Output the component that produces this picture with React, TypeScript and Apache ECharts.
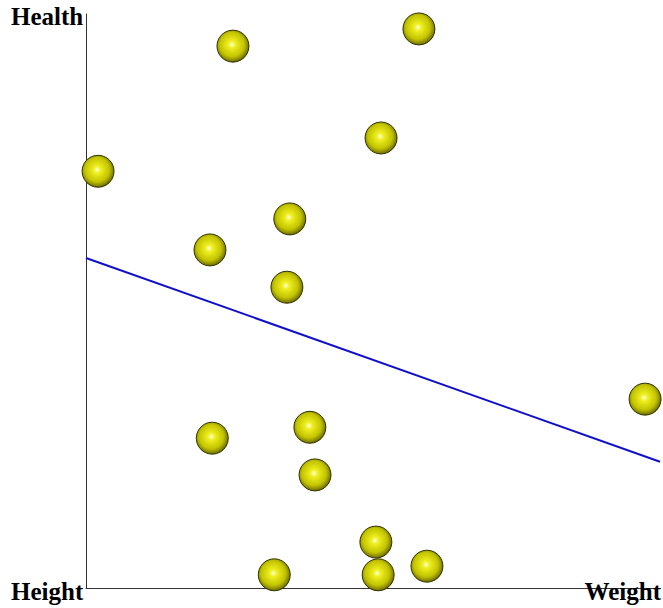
import React, { useEffect, useRef } from "react";
import * as echarts from "echarts";

const weight: number[] = [2.1, 25.6, 58.0, 51.4, 35.5, 21.6, 35.0, 97.4, 22.0, 39.0, 39.9, 50.5, 32.8, 50.9, 59.4];
const health: number[] = [72.6, 94.4, 97.4, 78.4, 64.3, 58.9, 52.4, 32.9, 26.1, 28.0, 19.7, 8.0, 2.3, 2.3, 3.8];
const trendX: number[] = [0, 100];
const trendY: number[] = [57.5, 22.0];
const axisTitles = { y: "Health", origin: "Height", x: "Weight" };

export default function App() {
  const ref = useRef<HTMLDivElement>(null);
  useEffect(() => {
    if (!ref.current) return;
    const chart = echarts.init(ref.current, null, { renderer: "svg" });
    const font = "'Liberation Serif', 'Times New Roman', serif";
    const sphere = new echarts.graphic.RadialGradient(0.47, 0.45, 0.58, [
      { offset: 0, color: "#ffffd0" },
      { offset: 0.2, color: "#eeee20" },
      { offset: 0.65, color: "#c4c400" },
      { offset: 0.9, color: "#7a7a00" },
      { offset: 1, color: "#3c3c00" },
    ]);
    chart.setOption({
      animation: false,
      backgroundColor: "#ffffff",
      grid: { left: 86, top: 14, right: 3, bottom: 20, containLabel: false },
      xAxis: {
        type: "value",
        min: 0,
        max: 100,
        axisLine: { show: true, lineStyle: { color: "#333333", width: 1 } },
        axisTick: { show: false },
        axisLabel: { show: false },
        splitLine: { show: false },
      },
      yAxis: {
        type: "value",
        min: 0,
        max: 100,
        axisLine: { show: true, lineStyle: { color: "#333333", width: 1 } },
        axisTick: { show: false },
        axisLabel: { show: false },
        splitLine: { show: false },
      },
      series: [
        {
          type: "line",
          data: trendX.map((x, i) => [x, trendY[i]]),
          symbol: "none",
          lineStyle: { color: "#1010cc", width: 2 },
          z: 1,
        },
        {
          type: "scatter",
          data: weight.map((x, i) => [x, health[i]]),
          symbolSize: 32,
          itemStyle: { color: sphere, borderColor: "#333300", borderWidth: 1, opacity: 1 },
          z: 3,
        },
      ],
      graphic: [
        {
          type: "text",
          left: 11,
          top: 4,
          z: 10,
          style: { text: axisTitles.y, font: `bold 25px ${font}`, fill: "#000" },
        },
        {
          type: "text",
          left: 11,
          top: 579,
          z: 10,
          style: { text: axisTitles.origin, font: `bold 25px ${font}`, fill: "#000" },
        },
        {
          type: "text",
          right: 2,
          top: 579,
          z: 10,
          style: { text: axisTitles.x, font: `bold 25px ${font}`, fill: "#000" },
        },
      ],
    });
    return () => chart.dispose();
  }, []);
  return <div ref={ref} style={{ width: 663, height: 608, position: "absolute", left: 0, top: 0 }} />;
}
